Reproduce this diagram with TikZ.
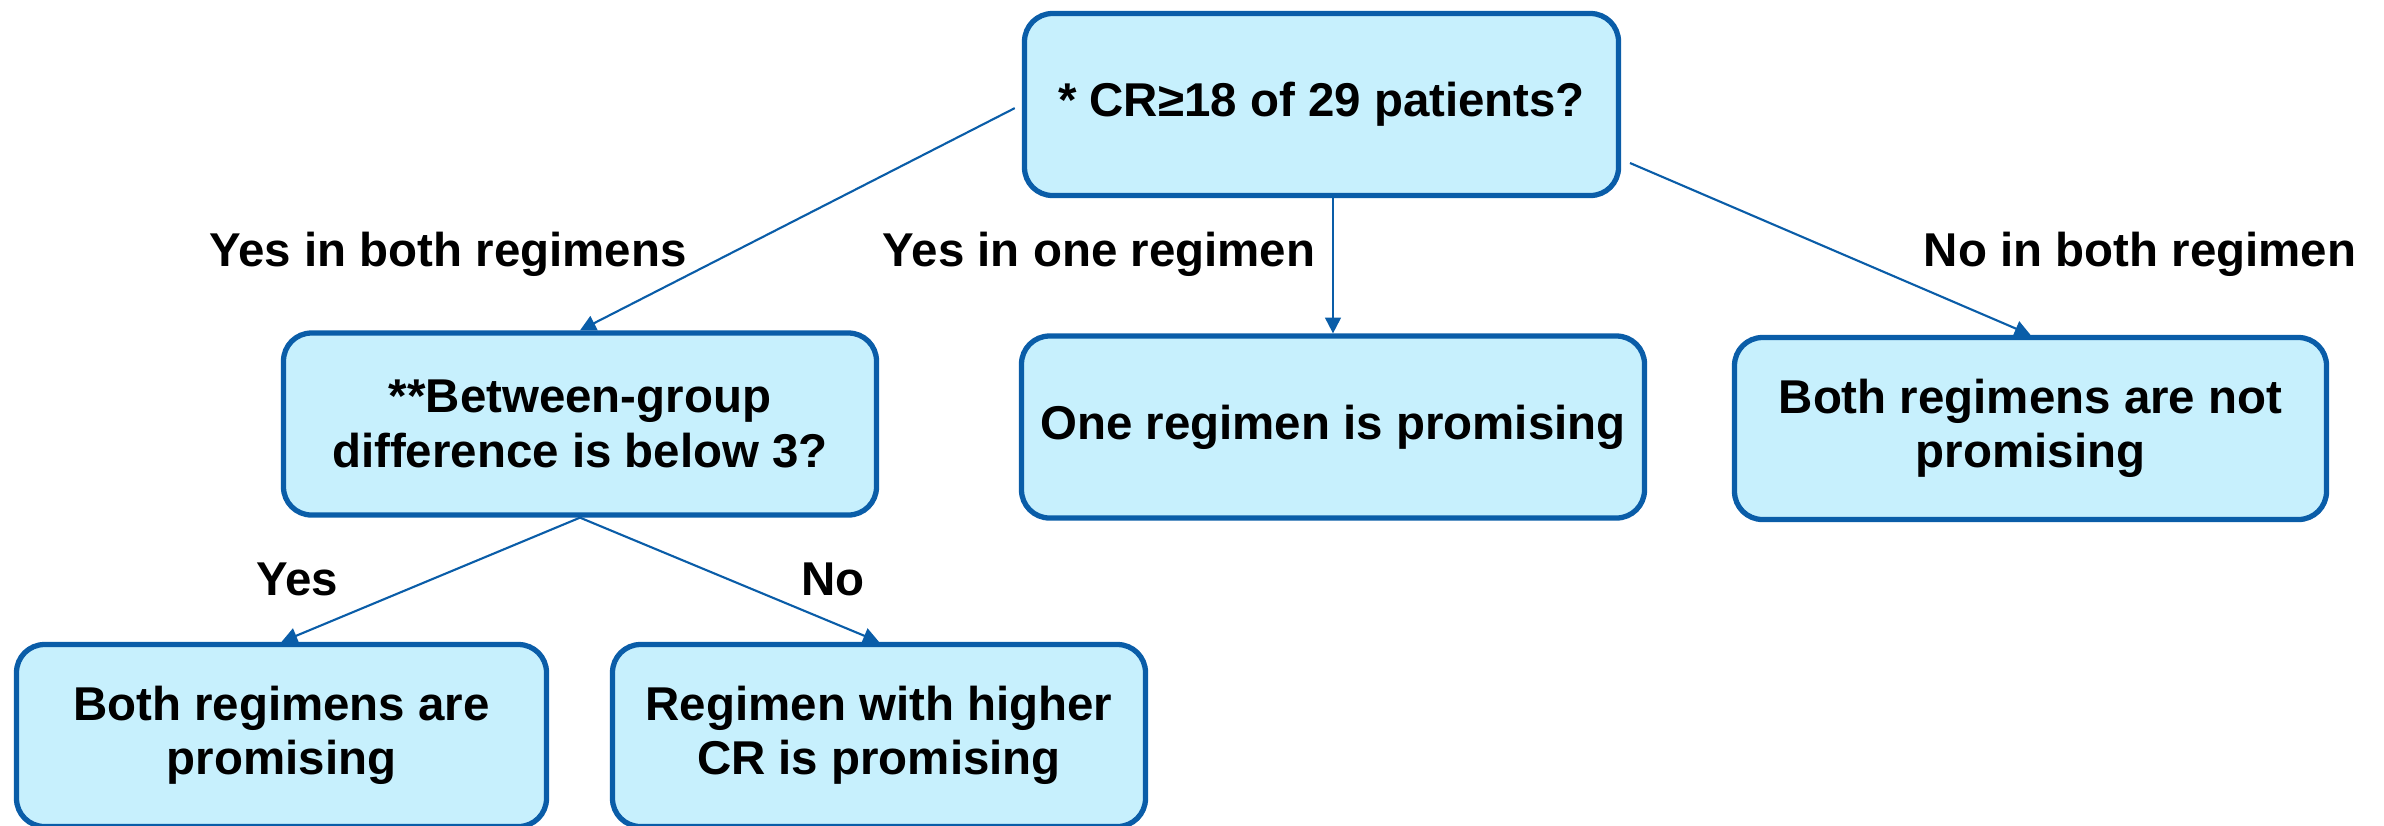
\documentclass[tikz,border=0pt]{standalone}
\usepackage{fontspec}
\setmainfont{Liberation Sans}
\usetikzlibrary{arrows.meta, positioning}
\definecolor{boxblue}{RGB}{10,93,168}
\definecolor{boxfill}{RGB}{199,240,253}
\def\boxheight{1.82cm}

\begin{document}
\begin{tikzpicture}[->, >={Triangle[length=4.5pt,width=4.5pt]}, draw=boxblue, line width=0.6pt]
    \tikzstyle{box}=[rectangle, rounded corners=0.28cm, draw=boxblue, line width=1.5pt, fill=boxfill, align=center, minimum height=\boxheight, inner sep=2pt, font=\fontsize{13.5}{15.5}\selectfont\bfseries]
    \tikzstyle{lab}=[anchor=base, font=\fontsize{13.5}{15.5}\selectfont\bfseries]

    \useasboundingbox (0,0) rectangle (23.84,-8.25);

    % Draw the question nodes
    \node[box, minimum width=5.94cm] (Q-1) at (13.215,-1.045) {* CR≥18 of 29 patients?};
    \node[box, minimum width=5.93cm] (Q-2) at (5.80,-4.24) {**Between-group\\difference is below 3?};

    % Draw the result nodes
    \node[box, minimum width=6.23cm] (R-1) at (13.33,-4.27) {One regimen is promising};
    \node[box, minimum width=5.92cm] (R-2) at (20.305,-4.285) {Both regimens are not\\promising};
    \node[box, minimum width=5.30cm] (R-3) at (2.815,-7.355) {Both regimens are\\promising};
    \node[box, minimum width=5.33cm] (R-4) at (8.79,-7.355) {Regimen with higher\\CR is promising};

    % Branch labels
    \node[lab] (L-1) at (4.48,-2.66) {Yes in both regimens};
    \node[lab] (L-2) at (10.99,-2.66) {Yes in one regimen};
    \node[lab] (L-3) at (21.40,-2.66) {No in both regimen};
    \node[lab] (L-4) at (2.97,-5.95) {Yes};
    \node[lab] (L-5) at (8.33,-5.95) {No};

    \coordinate (Q-1e) at (16.30,-1.63);

    \draw[shorten <=0.08cm] (Q-1.west) -- (Q-2.north);
    \draw (Q-1.south -| R-1.north) -- (R-1.north);
    \draw (Q-1e) -- (R-2.north);
    \draw (Q-2.south) -- (R-3.north);
    \draw (Q-2.south) -- (R-4.north);
\end{tikzpicture}
\end{document}
